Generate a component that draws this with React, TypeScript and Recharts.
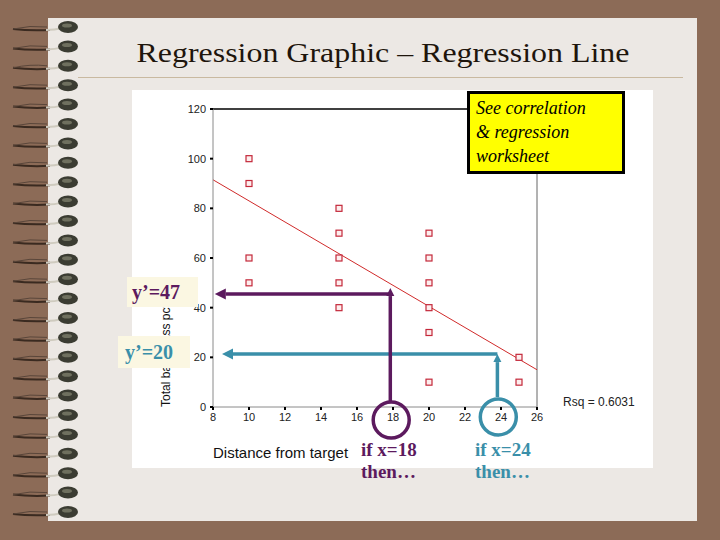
import React from 'react'
import {
  ScatterChart, Scatter, XAxis, YAxis, ReferenceLine, ReferenceDot,
} from 'recharts'

// scatter points
const DIST = [10, 10, 10, 10, 15, 15, 15, 15, 15, 20, 20, 20, 20, 20, 20, 25, 25]
const PASS_PCT = [100, 90, 60, 50, 80, 70, 60, 50, 40, 70, 60, 50, 40, 30, 10, 20, 10]

const X_TICKS = [8, 10, 12, 14, 16, 18, 20, 22, 24, 26]
const Y_TICKS = [0, 20, 40, 60, 80, 100, 120]

// fitted line, ends of the plotted segment
const FIT_X = [8, 26]
const FIT_Y = [91.5, 15]

// prediction arrows: purple (x=18) then teal (x=24)
const PRED_X = [17.85, 23.8]
const PRED_Y = [45.5, 21.3]
const RISE_FROM = [2.4, 4]
const RISE_TO = [47.9, 21.3]
const READ_TO_X = [8.1, 8.5]
const RING_X = [17.9, 23.85]
const RING_Y = [-5.2, -4]
const PRED_COLORS = ['#5c1a5e', '#3a8fa9']

const RSQ = 'Rsq = 0.6031'

const points = DIST.map((x, i) => ({ x, y: PASS_PCT[i] }))

const SANS = '"Liberation Sans", Arial, sans-serif'
const SERIF = '"Liberation Serif", "Times New Roman", serif'

function arrowShape(color: string, width: number, head: number) {
  return (p: any) => {
    const { x1, y1, x2, y2 } = p
    const dx = x2 - x1
    const dy = y2 - y1
    const len = Math.hypot(dx, dy) || 1
    const ux = dx / len
    const uy = dy / len
    const bx = x2 - ux * head
    const by = y2 - uy * head
    const hw = head * 0.5
    return (
      <g>
        <line x1={x1} y1={y1} x2={bx} y2={by} stroke={color} strokeWidth={width} />
        <polygon
          points={`${x2},${y2} ${bx - uy * hw},${by + ux * hw} ${bx + uy * hw},${by - ux * hw}`}
          fill={color}
        />
      </g>
    )
  }
}

const hollowSquare = (p: any) => (
  <rect x={p.cx - 3} y={p.cy - 3} width={6} height={6} fill="#fdeeee" stroke="#c4283a" strokeWidth={1.2} />
)

function Spiral() {
  const rings = Array.from({ length: 26 }, (_, i) => 27 + i * 19.4)
  return (
    <svg width={90} height={540} style={{ position: 'absolute', left: 0, top: 0 }}>
      {rings.map((y, i) => (
        <g key={i}>
          <path d={`M 13 ${y + 2} Q 30 ${y + 4} 50 ${y + 3}`} stroke="#3a2a20" strokeWidth={2} fill="none" />
          <path d={`M 13 ${y + 2} Q 30 ${y - 2} 47 ${y}`} stroke="#5a463a" strokeWidth={1} fill="none" />
          <path d={`M 46 ${y + 3} Q 55 ${y + 3} 62 ${y + 1}`} stroke="#cfcbbf" strokeWidth={2} fill="none" />
          <ellipse cx={68} cy={y} rx={10} ry={6} fill="#3b3c32" />
          <ellipse cx={67} cy={y - 1.5} rx={5} ry={2} fill="#6f705f" />
        </g>
      ))}
    </svg>
  )
}

export default function App() {
  return (
    <div
      style={{
        position: 'absolute', left: 0, top: 0, width: 720, height: 540,
        background: '#8c6b57', overflow: 'hidden',
      }}
    >
      {/* paper */}
      <div style={{ position: 'absolute', left: 48, top: 18, width: 649, height: 503, background: '#ece8e4' }} />
      <Spiral />

      <div
        style={{
          position: 'absolute', left: 0, width: 766, top: 37, textAlign: 'center',
          fontFamily: SERIF, fontSize: 28, color: '#1e150c', whiteSpace: 'nowrap',
          transform: 'scaleX(1.14)', transformOrigin: '383px 0',
        }}
      >
        Regression Graphic – Regression Line
      </div>
      <div style={{ position: 'absolute', left: 78, top: 77, width: 605, height: 1, background: '#c9b9a0' }} />

      {/* chart panel */}
      <div style={{ position: 'absolute', left: 132, top: 90, width: 521, height: 378, background: '#fff' }}>
        <ScatterChart width={521} height={378} margin={{ top: 19, right: 116, bottom: 11, left: 21 }}>
          <XAxis
            type="number"
            dataKey="x"
            domain={[8, 26]}
            ticks={X_TICKS}
            interval={0}
            height={50}
            stroke="#8a8a8a"
            tickSize={3}
            tickMargin={3}
            tickLine={{ stroke: '#000', strokeWidth: 2 }}
            tick={{ fontSize: 11, fill: '#222', fontFamily: SANS }}
            label={{
              content: ({ viewBox }: any) => (
                <text x={viewBox.x} y={viewBox.y + 51} fontSize={15} fill="#111" fontFamily={SANS}>
                  Distance from target
                </text>
              ),
            }}
          />
          <YAxis
            type="number"
            dataKey="y"
            domain={[0, 120]}
            ticks={Y_TICKS}
            interval={0}
            width={60}
            stroke="#8a8a8a"
            tickSize={3}
            tickMargin={4}
            tickLine={{ stroke: '#000', strokeWidth: 2 }}
            tick={{ fontSize: 11, fill: '#222', fontFamily: SANS }}
            label={{
              content: ({ viewBox }: any) => {
                const lx = viewBox.x + 17
                const ly = viewBox.y + viewBox.height
                return (
                  <text
                    x={lx} y={ly} transform={`rotate(-90, ${lx}, ${ly})`}
                    fontSize={12} fill="#111" fontFamily={SANS} textAnchor="start"
                  >
                    Total bags pass pct
                  </text>
                )
              },
            }}
          />
          <ReferenceLine y={120} stroke="#000" strokeWidth={1.5} ifOverflow="visible" />
          <ReferenceLine x={26} stroke="#666" strokeWidth={1} ifOverflow="visible" />
          <ReferenceLine
            segment={[{ x: FIT_X[0], y: FIT_Y[0] }, { x: FIT_X[1], y: FIT_Y[1] }]}
            stroke="#d02a2a"
            strokeWidth={1}
          />
          <Scatter data={points} shape={hollowSquare} isAnimationActive={false} />
          {PRED_X.map((px, i) => (
            <ReferenceLine
              key={`h${i}`}
              segment={[{ x: px, y: PRED_Y[i] }, { x: READ_TO_X[i], y: PRED_Y[i] }]}
              shape={arrowShape(PRED_COLORS[i], 3.5, 11)}
              ifOverflow="visible"
            />
          ))}
          {PRED_X.map((px, i) => (
            <ReferenceLine
              key={`v${i}`}
              segment={[{ x: px, y: RISE_FROM[i] }, { x: px, y: RISE_TO[i] }]}
              shape={arrowShape(PRED_COLORS[i], 3.5, 8)}
              ifOverflow="visible"
            />
          ))}
          {RING_X.map((rx, i) => (
            <ReferenceDot
              key={`r${i}`}
              x={rx}
              y={RING_Y[i]}
              r={18}
              fill="none"
              stroke={PRED_COLORS[i]}
              strokeWidth={3.5}
              ifOverflow="visible"
            />
          ))}
        </ScatterChart>
      </div>

      <div
        style={{
          position: 'absolute', left: 563, top: 395, fontFamily: SANS, fontSize: 12,
          color: '#222', whiteSpace: 'nowrap',
        }}
      >
        {RSQ}
      </div>

      {/* note box */}
      <div
        style={{
          position: 'absolute', left: 467, top: 91, width: 146, height: 75,
          background: '#ffff00', border: '3px solid #000', fontFamily: SERIF,
          fontStyle: 'italic', fontSize: 18, lineHeight: '24px', color: '#000',
          padding: '2px 0 0 6px', boxSizing: 'content-box',
        }}
      >
        See correlation<br />&amp; regression<br />worksheet
      </div>

      {/* y' labels */}
      <div
        style={{
          position: 'absolute', left: 127, top: 277, width: 71, height: 30,
          background: '#fbf7e2', fontFamily: SERIF, fontWeight: 'bold', fontSize: 20,
          color: '#5c1a5e', lineHeight: '30px', paddingLeft: 5, boxSizing: 'border-box',
        }}
      >
        y’=47
      </div>
      <div
        style={{
          position: 'absolute', left: 118, top: 336, width: 72, height: 32,
          background: '#fbf7e2', fontFamily: SERIF, fontWeight: 'bold', fontSize: 20,
          color: '#3a8fa9', lineHeight: '32px', paddingLeft: 7, boxSizing: 'border-box',
        }}
      >
        y’=20
      </div>

      {/* x prompts */}
      <div
        style={{
          position: 'absolute', left: 361, top: 439, fontFamily: SERIF, fontWeight: 'bold',
          fontSize: 19, lineHeight: '22px', color: '#5c1a5e', whiteSpace: 'nowrap',
        }}
      >
        if x=18<br />then…
      </div>
      <div
        style={{
          position: 'absolute', left: 475, top: 439, fontFamily: SERIF, fontWeight: 'bold',
          fontSize: 19, lineHeight: '22px', color: '#3a8fa9', whiteSpace: 'nowrap',
        }}
      >
        if x=24<br />then…
      </div>
    </div>
  )
}
